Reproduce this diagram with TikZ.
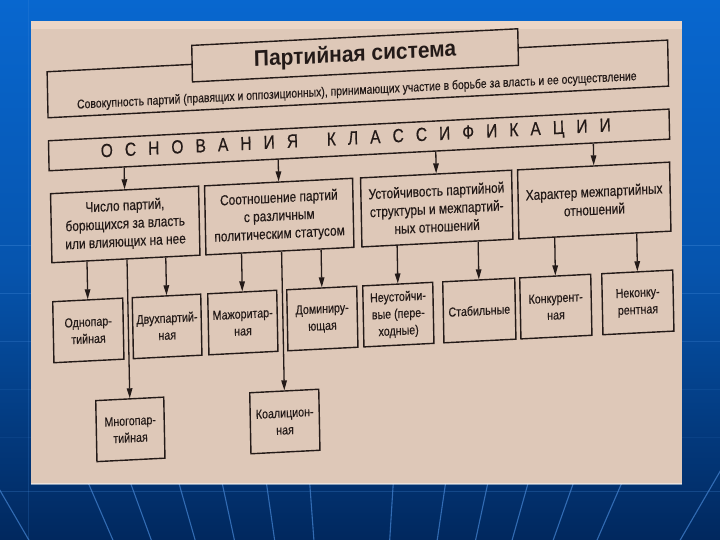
\documentclass[tikz,border=0pt]{standalone}
\usepackage{fontspec}
\setmainfont{Liberation Sans}[FakeStretch=0.82,FakeBold=0.35]
\newfontfamily\titlefont{Liberation Sans}[FakeStretch=0.93]
\usetikzlibrary{arrows.meta,calc}
\definecolor{ink}{HTML}{231A18}
\definecolor{paper}{HTML}{DEC8B8}
\definecolor{paperedge}{HTML}{EBD5C6}
\definecolor{bgtop}{HTML}{0867CF}
\definecolor{bgbot}{HTML}{01285E}
\definecolor{fanline}{HTML}{3E7BC6}
\definecolor{gridline}{HTML}{4A90E0}
\newcommand\linkbox[2]{\draw[arr] (intersection of #1.south west--#1.south east and #2.north--#2.south) -- (#2.north);}
\begin{document}
\begin{tikzpicture}[x=1pt,y=-1pt,
  box/.style={draw=ink, line width=1.4pt, inner sep=0pt, align=center, transform shape, text=ink},
  cat/.style={box, minimum height=69pt, font=\fontsize{14.5}{18}\selectfont},
  leaf/.style={box, minimum height=61pt, font=\fontsize{13}{17}\selectfont},
  arr/.style={draw=ink, line width=1.3pt, -{Triangle[length=10pt,width=5.5pt]}}
]
\useasboundingbox (0,0) rectangle (720,540);
% slide background
\shade[top color=bgtop, bottom color=bgbot, middle color=bgtop!70!bgbot] (0,0) rectangle (720,540);
\foreach \yy/\op in {245/0.35,293/0.3,341/0.25,389/0.12,437/0.1,491/0.25}
  \draw[gridline, opacity=\op, line width=0.8pt] (0,\yy) -- (720,\yy);
\draw[gridline, opacity=0.2, line width=0.8pt] (28,0) -- (28,540);
\foreach \xx in {-2,90,132,180,223,267,310,393,445,487,527,572,620,711}
  \draw[fanline, opacity=0.8, line width=1.1pt] (355,1100) -- ($(355,1100)!1.03!(\xx,487)$);
% paper
\fill[paper] (30.7,21) rectangle (681.7,483.5);
\fill[paperedge] (30.7,21) rectangle (681.7,29);
\draw[white, opacity=0.5, line width=1.2pt] (30.7,484) -- (681.7,484);

\begin{scope}[cm={1,0.051,-0.02,1,(-5pt,-18.36pt)}]
  \node[box, minimum width=620.5pt, minimum height=46pt] (sov) at (361.25,79) {};
  \node[transform shape, text=ink, font=\fontsize{12.7}{15}\selectfont] (sovtxt) at (360,91)
    {Совокупность партий (правящих и оппозиционных), принимающих участие в борьбе за власть и ее осуществление};
  \node[box, fill=paper, minimum width=326pt, minimum height=36.5pt,
        font=\titlefont\bfseries\fontsize{22.5}{25}\selectfont] (title) at (359,55.3) {Партийная система};
  \node[box, minimum width=620.5pt, minimum height=30pt] (osn) at (361.25,140) {};
  \node[transform shape, text=ink, font=\fontsize{19}{22}\selectfont] (osntxt) at (358,139.5)
    {\hbox to 510pt{О\hfil С\hfil Н\hfil О\hfil В\hfil А\hfil Н\hfil И\hfil Я\hskip 0pt plus 2.4fil К\hfil Л\hfil А\hfil С\hfil С\hfil И\hfil Ф\hfil И\hfil К\hfil А\hfil Ц\hfil И\hfil И}};
  % categories
  \node[cat, minimum width=148pt] (c1) at (126,212.5) {Число партий,\\борющихся за власть\\или влияющих на нее};
  \node[cat, minimum width=148pt] (c2) at (280,212.5) {Соотношение партий\\с различным\\политическим статусом};
  \node[cat, minimum width=151pt] (c3) at (437.5,212.5) {Устойчивость партийной\\структуры и межпартий-\\ных отношений};
  \node[cat, minimum width=152pt] (c4) at (595,212.5) {Характер межпартийных\\отношений};
  % leaves
  \node[leaf, minimum width=70pt] (b1) at (87,316.5) {Однопар-\\тийная};
  \node[leaf, minimum width=68.5pt] (b2) at (165.75,316.5) {Двухпартий-\\ная};
  \node[leaf, minimum width=69pt] (b3) at (241.5,316.5) {Мажоритар-\\ная};
  \node[leaf, minimum width=70pt] (b4) at (321,316.5) {Доминиру-\\ющая};
  \node[leaf, minimum width=70pt] (b5) at (397,316.5) {Неустойчи-\\вые (пере-\\ходные)};
  \node[leaf, minimum width=72pt] (b6) at (478,316.5) {Стабильные};
  \node[leaf, minimum width=71pt] (b7) at (554.5,316.5) {Конкурент-\\ная};
  \node[leaf, minimum width=71pt] (b8) at (636.5,316.5) {Неконку-\\рентная};
  \node[leaf, minimum width=68pt] (m) at (127,417.5) {Многопар-\\тийная};
  \node[leaf, minimum width=69pt] (k) at (281.5,417.5) {Коалицион-\\ная};
  % connectors
  \linkbox{osn}{c1}
  \linkbox{osn}{c2}
  \linkbox{osn}{c3}
  \linkbox{osn}{c4}
  \linkbox{c1}{b1}
  \linkbox{c1}{m}
  \linkbox{c1}{b2}
  \linkbox{c2}{b3}
  \linkbox{c2}{k}
  \linkbox{c2}{b4}
  \linkbox{c3}{b5}
  \linkbox{c3}{b6}
  \linkbox{c4}{b7}
  \linkbox{c4}{b8}
\end{scope}
\end{tikzpicture}
\end{document}
